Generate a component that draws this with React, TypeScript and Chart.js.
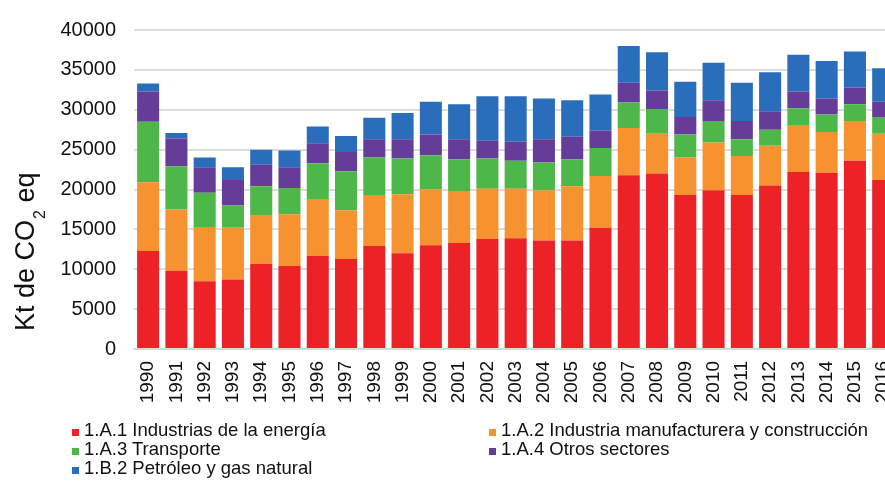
import React, { useEffect, useRef } from "react";
import { Chart, registerables } from "chart.js";

Chart.register(...registerables);

const years = [
  "1990", "1991", "1992", "1993", "1994", "1995", "1996", "1997", "1998",
  "1999", "2000", "2001", "2002", "2003", "2004", "2005", "2006", "2007",
  "2008", "2009", "2010", "2011", "2012", "2013", "2014", "2015", "2016",
];

const energia = [
  12300, 9800, 8500, 8700, 10700, 10400, 11700, 11300, 12900, 12000, 13000,
  13300, 13800, 13900, 13600, 13600, 15200, 21800, 22000, 19300, 19900, 19300,
  20500, 22200, 22100, 23600, 21200,
];
const manufactura = [
  8600, 7700, 6800, 6500, 6000, 6500, 7100, 6100, 6400, 7400, 7000, 6500,
  6300, 6200, 6300, 6800, 6500, 5900, 5000, 4700, 6000, 4900, 5000, 5900,
  5100, 5000, 5800,
];
const transporte = [
  7600, 5400, 4300, 2800, 3700, 3300, 4500, 4900, 4700, 4500, 4300, 4000,
  3800, 3500, 3500, 3400, 3500, 3200, 3100, 2900, 2700, 2100, 2000, 2100,
  2200, 2100, 2100,
];
const otros = [
  3800, 3500, 3200, 3200, 2700, 2600, 2500, 2400, 2300, 2400, 2600, 2500,
  2200, 2400, 2900, 2800, 2200, 2500, 2300, 2200, 2600, 2300, 2300, 2100,
  2000, 2100, 1900,
];
const petroleo = [
  1000, 700, 1200, 1600, 1900, 2100, 2100, 2000, 2700, 3300, 4100, 4400,
  5600, 5700, 5100, 4600, 4500, 4600, 4800, 4400, 4700, 4800, 4900, 4600,
  4700, 4500, 4200,
];

const seriesLabels = [
  "1.A.1 Industrias de la energía",
  "1.A.2 Industria manufacturera y construcción",
  "1.A.3 Transporte",
  "1.A.4 Otros sectores",
  "1.B.2 Petróleo y gas natural",
];
const seriesColors = ["#EC2227", "#F6922F", "#4EB74A", "#653C97", "#2A6EBB"];
const yTicks = [0, 5000, 10000, 15000, 20000, 25000, 30000, 35000, 40000];

const FONT = "'Liberation Sans', Arial, sans-serif";

const titlePlugin = {
  id: "yTitle",
  afterDraw(chart: any) {
    const ctx = chart.ctx;
    ctx.save();
    ctx.translate(34, 331);
    ctx.rotate(-Math.PI / 2);
    ctx.fillStyle = "#111";
    ctx.textBaseline = "alphabetic";
    ctx.textAlign = "left";
    ctx.font = `27px ${FONT}`;
    let x = 0;
    const p1 = "Kt de CO";
    ctx.fillText(p1, x, 0);
    x += ctx.measureText(p1).width;
    ctx.font = `16px ${FONT}`;
    ctx.fillText("2", x + 1, 11);
    x += ctx.measureText("2").width + 1;
    ctx.font = `27px ${FONT}`;
    ctx.fillText(" eq", x, 0);
    ctx.restore();
  },
};

export default function App() {
  const ref = useRef<HTMLCanvasElement>(null);
  useEffect(() => {
    const seriesData = [energia, manufactura, transporte, otros, petroleo];
    const chart = new Chart(ref.current!, {
      type: "bar",
      data: {
        labels: years,
        datasets: seriesData.map((d, i) => ({
          label: seriesLabels[i],
          data: d,
          backgroundColor: seriesColors[i],
          borderWidth: 0,
          categoryPercentage: 1,
          barPercentage: 0.78,
        })),
      },
      options: {
        responsive: false,
        animation: false,
        maintainAspectRatio: false,
        layout: { padding: { top: 23, right: 0, bottom: 0, left: 0 } },
        plugins: { legend: { display: false }, tooltip: { enabled: false } },
        scales: {
          x: {
            stacked: true,
            grid: { display: false, drawTicks: false },
            border: { display: true, color: "#d9d9d9", width: 2 },
            ticks: {
              color: "#111",
              font: { family: FONT, size: 19 },
              minRotation: 90,
              maxRotation: 90,
              padding: 12,
              autoSkip: false,
            },
            afterFit(scale: any) {
              scale.height = 134;
            },
          },
          y: {
            stacked: true,
            min: 0,
            max: 40000,
            afterBuildTicks(scale: any) {
              scale.ticks = yTicks.map((v) => ({ value: v }));
            },
            grid: { color: "#dcdcdc", lineWidth: 2, drawTicks: false },
            border: { display: false },
            ticks: {
              color: "#111",
              font: { family: FONT, size: 20 },
              padding: 18,
              callback: (v: any) => String(v),
            },
            afterFit(scale: any) {
              scale.width = 134;
            },
          },
        },
      },
      plugins: [titlePlugin],
    });
    return () => chart.destroy();
  }, []);

  const rowTops = [420, 439, 458];
  const items = [
    { i: 0, col: 0, row: 0 },
    { i: 1, col: 1, row: 0 },
    { i: 2, col: 0, row: 1 },
    { i: 3, col: 1, row: 1 },
    { i: 4, col: 0, row: 2 },
  ];
  const colX = [72, 489];

  return (
    <div
      style={{
        position: "fixed",
        left: 0,
        top: 0,
        width: 885,
        height: 483,
        overflow: "hidden",
        background: "#fff",
      }}
    >
      <canvas ref={ref} width={918} height={483} style={{ display: "block" }} />
      {items.map((it) => (
        <div
          key={it.i}
          style={{
            position: "absolute",
            left: colX[it.col],
            top: rowTops[it.row],
            height: 19,
            lineHeight: "19px",
            fontFamily: FONT,
            fontSize: 18.5,
            color: "#111",
            whiteSpace: "nowrap",
          }}
        >
          <span
            style={{
              display: "inline-block",
              width: 7,
              height: 7,
              background: seriesColors[it.i],
              marginRight: 5,
              verticalAlign: "baseline",
            }}
          />
          {seriesLabels[it.i]}
        </div>
      ))}
    </div>
  );
}
